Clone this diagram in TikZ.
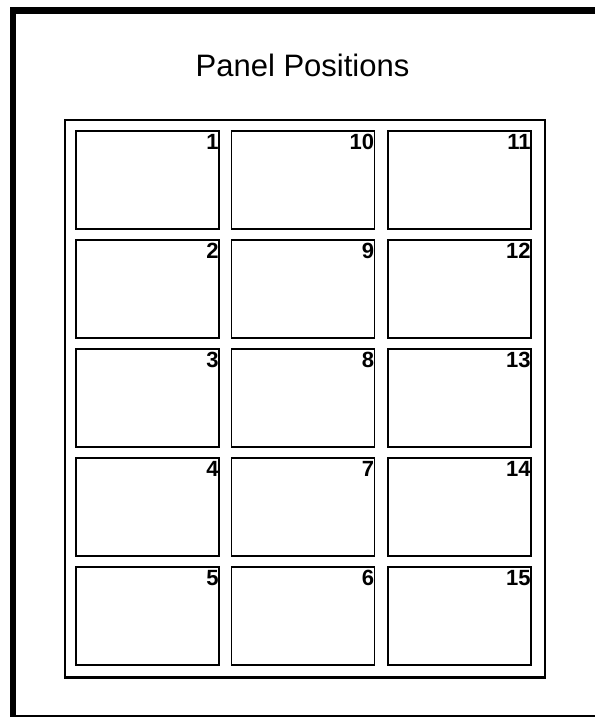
\documentclass[tikz,border=0pt]{standalone}
\usepackage{fontspec}
\setmainfont{Liberation Sans}
\tikzset{
  panel/.style={draw, line width=1.3pt, minimum width=143pt, minimum height=98pt, inner sep=0pt},
  pnum/.style={anchor=north east, inner sep=0pt, font=\fontsize{22}{22}\selectfont\bfseries},
}
\begin{document}
\begin{tikzpicture}[x=1pt,y=-1pt]
\useasboundingbox (0,0) rectangle (595,717);
% outer frame
\draw[line width=6.5pt] (13,717) -- (13,10.5) -- (595,10.5);
\draw[line width=1.5pt] (13,716) -- (595,716);
% title
\node[anchor=base, inner sep=0pt, font=\fontsize{31}{31}\selectfont] (title) at (302.5,76) {Panel Positions};
% inner frame
\draw[line width=2.2pt] (65,120) rectangle (545,677.5);
% panels
\foreach \c/\x in {1/147.5,2/303,3/459.5}{
  \foreach \r in {1,...,5}{
    \node[panel] (p\c\r) at (\x,{180+(\r-1)*109}) {};
  }
}
\foreach \c/\r/\t in {1/1/1,1/2/2,1/3/3,1/4/4,1/5/5,
                       2/1/10,2/2/9,2/3/8,2/4/7,2/5/6,
                       3/1/11,3/2/12,3/3/13,3/4/14,3/5/15}{
  \node[pnum] (n\c\r) at ([xshift=-0.8pt,yshift=-3.5pt]p\c\r.north east) {\t};
}
\end{tikzpicture}
\end{document}
